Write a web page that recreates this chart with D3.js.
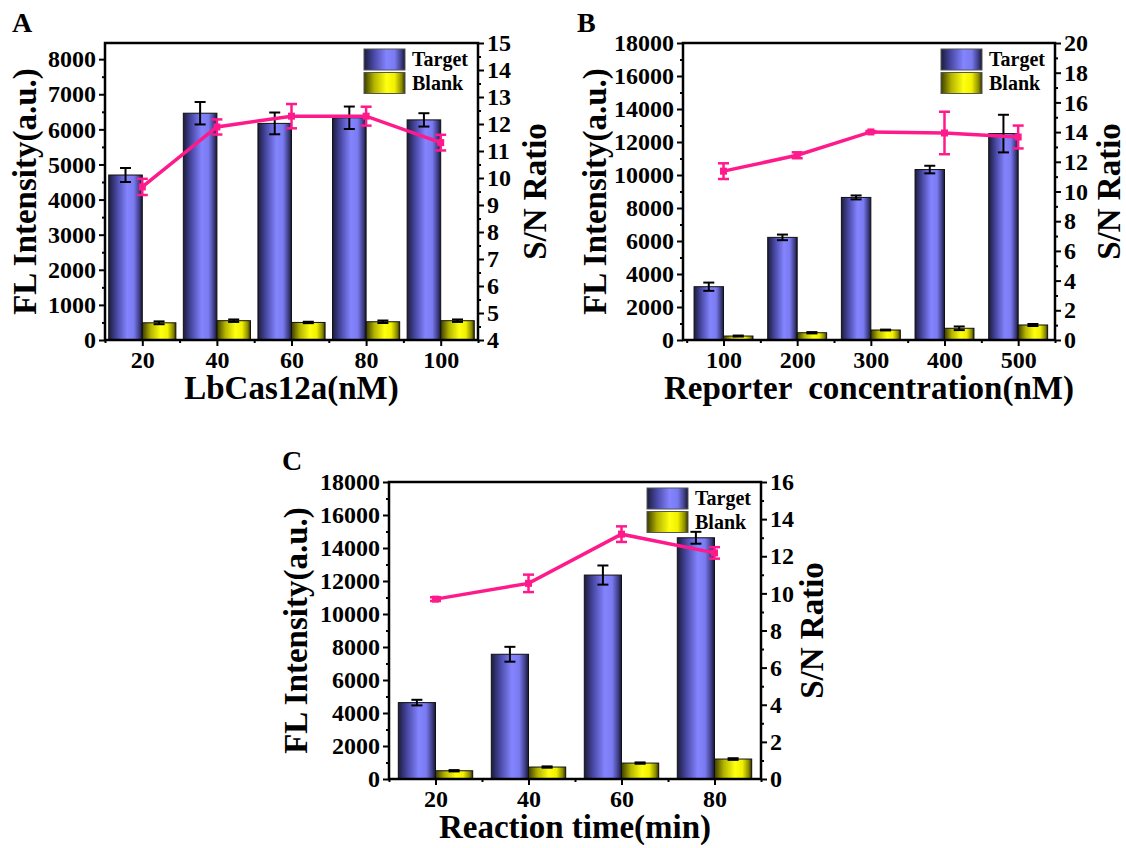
<!DOCTYPE html>
<html>
<head>
<meta charset="utf-8">
<script src="https://cdn.jsdelivr.net/npm/d3@7"></script>
<style>
  body { margin: 0; background: #fff; }
</style>
</head>
<body>
<div id="chart"></div>
<script>
// Panel A: LbCas12a concentration
const lbCas = [20, 40, 60, 80, 100];
const aTarget = [4700, 6460, 6170, 6330, 6270];
const aTargetErr = [200, 320, 310, 320, 190];
const aBlank = [490, 550, 500, 520, 550];
const aBlankErr = [40, 35, 20, 35, 35];
const aRatio = [9.67, 11.89, 12.29, 12.29, 11.31];
const aRatioErr = [0.30, 0.28, 0.45, 0.35, 0.29];

// Panel B: reporter concentration
const reporter = [100, 200, 300, 400, 500];
const bTarget = [3230, 6220, 8640, 10330, 12510];
const bTargetErr = [250, 170, 120, 230, 1140];
const bBlank = [240, 440, 605, 710, 910];
const bBlankErr = [30, 40, 25, 110, 60];
const bRatio = [11.37, 12.44, 14.01, 13.94, 13.67];
const bRatioErr = [0.53, 0.20, 0.06, 1.43, 0.77];

// Panel C: reaction time
const reaction = [20, 40, 60, 80];
const cTarget = [4630, 7560, 12360, 14620];
const cTargetErr = [170, 450, 580, 360];
const cBlank = [500, 725, 965, 1210];
const cBlankErr = [40, 40, 40, 50];
const cRatio = [9.69, 10.54, 13.19, 12.18];
const cRatioErr = [0.10, 0.47, 0.42, 0.31];

// tick labels
const aYTicks = d3.range(0, 8001, 1000);
const aRTicks = d3.range(4, 16, 1);
const bYTicks = d3.range(0, 18001, 2000);
const bRTicks = d3.range(0, 21, 2);
const cYTicks = d3.range(0, 18001, 2000);
const cRTicks = d3.range(0, 17, 2);

const FONT = "'Liberation Serif', 'Times New Roman', serif";
const PINK = "#ff1a8c";

const svg = d3.select("#chart")
  .append("svg")
    .attr("width", 1126)
    .attr("height", 848);

// gradients for the bars
const defs = svg.append("defs");
function gradient(id, stops) {
  const g = defs.append("linearGradient").attr("id", id)
    .attr("x1", "0").attr("x2", "1").attr("y1", "0").attr("y2", "0");
  stops.forEach(s => g.append("stop").attr("offset", s[0]).attr("stop-color", s[1]));
}
gradient("gBlue", [[0, "#1c1c3c"], [0.25, "#4a4aa8"], [0.55, "#8484ff"], [0.75, "#7a7af0"], [0.92, "#3a3a80"], [1, "#16162e"]]);
gradient("gYellow", [[0, "#3c3c00"], [0.25, "#b4b400"], [0.55, "#ffff10"], [0.75, "#f0f000"], [0.92, "#8a8a00"], [1, "#2e2e00"]]);

function panel(o) {
  const g = svg.append("g");
  const x = d3.scaleLinear().domain(o.xDomain).range([o.left, o.right]);
  const y = d3.scaleLinear().domain([0, o.yMax]).range([o.bottom, o.top]);
  const yr = d3.scaleLinear().domain(o.rDomain).range([o.bottom, o.top]);

  // bars
  const bars = g.append("g");
  bars.selectAll("rect.t")
    .data(o.cats)
    .join("rect")
      .attr("x", (d, i) => x(d - o.barW))
      .attr("y", (d, i) => y(o.target[i]))
      .attr("width", d => x(d) - x(d - o.barW))
      .attr("height", (d, i) => o.bottom - y(o.target[i]))
      .attr("fill", "url(#gBlue)")
      .attr("stroke", "#111")
      .attr("stroke-width", 1);
  bars.selectAll("rect.b")
    .data(o.cats)
    .join("rect")
      .attr("class", "b")
      .attr("x", d => x(d))
      .attr("y", (d, i) => y(o.blank[i]))
      .attr("width", d => x(d + o.barW) - x(d))
      .attr("height", (d, i) => o.bottom - y(o.blank[i]))
      .attr("fill", "url(#gYellow)")
      .attr("stroke", "#111")
      .attr("stroke-width", 1);

  // error bars helper
  function errBars(cx, vals, errs, scale, color, sw) {
    const eg = g.append("g").attr("stroke", color).attr("stroke-width", sw).attr("fill", "none");
    o.cats.forEach((c, i) => {
      const px = cx(c);
      const y1 = scale(vals[i] + errs[i]), y2 = scale(vals[i] - errs[i]);
      eg.append("line").attr("x1", px).attr("x2", px).attr("y1", y1).attr("y2", y2);
      eg.append("line").attr("x1", px - 5.5).attr("x2", px + 5.5).attr("y1", y1).attr("y2", y1);
      eg.append("line").attr("x1", px - 5.5).attr("x2", px + 5.5).attr("y1", y2).attr("y2", y2);
    });
  }
  errBars(c => x(c - o.barW / 2), o.target, o.targetErr, y, "#000", 2);
  errBars(c => x(c + o.barW / 2), o.blank, o.blankErr, y, "#000", 2);

  // S/N ratio line
  const line = d3.line().x((d, i) => x(o.cats[i])).y(d => yr(d));
  g.append("path")
    .datum(o.ratio)
    .attr("d", line)
    .attr("fill", "none")
    .attr("stroke", PINK)
    .attr("stroke-width", 3.5);
  errBars(c => x(c), o.ratio, o.ratioErr, yr, PINK, 2.5);
  g.selectAll("rect.m")
    .data(o.ratio)
    .join("rect")
      .attr("class", "m")
      .attr("x", (d, i) => x(o.cats[i]) - 3.5)
      .attr("y", d => yr(d) - 3.5)
      .attr("width", 7)
      .attr("height", 7)
      .attr("fill", PINK);

  // axes
  function styleAxis(a) {
    a.select(".domain").remove();
    a.selectAll("line").attr("stroke", "#000").attr("stroke-width", 2);
    a.attr("font-family", FONT).attr("font-size", 24).attr("font-weight", "bold");
    a.selectAll("text").attr("fill", "#000");
  }
  const axL = g.append("g").attr("transform", `translate(${o.left},0)`)
    .call(d3.axisLeft(y).tickValues(o.yTicks).tickSize(6).tickPadding(3).tickFormat(d3.format("d")));
  styleAxis(axL);
  const axLm = g.append("g").attr("transform", `translate(${o.left},0)`)
    .call(d3.axisLeft(y).tickValues(o.yMinor).tickSize(3).tickFormat(""));
  styleAxis(axLm);

  const axR = g.append("g").attr("transform", `translate(${o.right},0)`)
    .call(d3.axisRight(yr).tickValues(o.rTicks).tickSize(6).tickPadding(3).tickFormat(d3.format("d")));
  styleAxis(axR);
  const axRm = g.append("g").attr("transform", `translate(${o.right},0)`)
    .call(d3.axisRight(yr).tickValues(o.rMinor).tickSize(3).tickFormat(""));
  styleAxis(axRm);

  const axB = g.append("g").attr("transform", `translate(0,${o.bottom})`)
    .call(d3.axisBottom(x).tickValues(o.cats).tickSize(6).tickPadding(5).tickFormat(d3.format("d")));
  styleAxis(axB);
  const axBm = g.append("g").attr("transform", `translate(0,${o.bottom})`)
    .call(d3.axisBottom(x).tickValues(o.xMinor).tickSize(3).tickFormat(""));
  styleAxis(axBm);

  // frame
  g.append("rect")
    .attr("x", o.left).attr("y", o.top)
    .attr("width", o.right - o.left).attr("height", o.bottom - o.top)
    .attr("fill", "none").attr("stroke", "#000").attr("stroke-width", 2.5);

  // titles
  const mid = (o.top + o.bottom) / 2;
  const tt = g.append("g").attr("font-family", FONT).attr("font-weight", "bold").attr("font-size", 33).attr("fill", "#000");
  tt.append("text")
    .attr("transform", `translate(${o.lTitleX},${mid}) rotate(-90)`)
    .attr("text-anchor", "middle")
    .text("FL Intensity(a.u.)");
  tt.append("text")
    .attr("transform", `translate(${o.rTitleX},${mid}) rotate(-90)`)
    .attr("text-anchor", "middle")
    .text("S/N Ratio");
  tt.append("text")
    .attr("x", (o.left + o.right) / 2)
    .attr("y", o.bottom + 59)
    .attr("text-anchor", "middle")
    .attr("xml:space", "preserve")
    .style("white-space", "pre")
    .text(o.xTitle);

  // panel letter
  g.append("text")
    .attr("x", o.letterX).attr("y", o.letterY)
    .attr("font-family", FONT).attr("font-weight", "bold").attr("font-size", 28)
    .text(o.letter);

  // legend
  const lg = g.append("g").attr("font-family", FONT).attr("font-weight", "bold").attr("font-size", 20);
  [["Target", "url(#gBlue)"], ["Blank", "url(#gYellow)"]].forEach((it, i) => {
    const sy = o.top + 6 + i * 23.5;
    lg.append("rect")
      .attr("x", o.right - 114).attr("y", sy)
      .attr("width", 41).attr("height", 21)
      .attr("fill", it[1]).attr("stroke", "#555").attr("stroke-width", 1);
    lg.append("text")
      .attr("x", o.right - 66).attr("y", sy + 17)
      .text(it[0]);
  });
}

panel({
  letter: "A", letterX: 12, letterY: 32,
  left: 105, right: 478, top: 43, bottom: 340,
  xDomain: [10, 110], barW: 9,
  cats: lbCas, xMinor: [10, 30, 50, 70, 90, 110],
  yMax: 8460, yTicks: aYTicks, yMinor: d3.range(500, 8460, 1000),
  rDomain: [4, 15], rTicks: aRTicks, rMinor: d3.range(4.5, 15, 1),
  target: aTarget, targetErr: aTargetErr, blank: aBlank, blankErr: aBlankErr,
  ratio: aRatio, ratioErr: aRatioErr,
  xTitle: "LbCas12a(nM)", lTitleX: 36, rTitleX: 546
});

panel({
  letter: "B", letterX: 577, letterY: 32,
  left: 683, right: 1055, top: 43, bottom: 340,
  xDomain: [45, 550], barW: 40,
  cats: reporter, xMinor: [50, 150, 250, 350, 450, 550],
  yMax: 18000, yTicks: bYTicks, yMinor: d3.range(1000, 18000, 2000),
  rDomain: [0, 20], rTicks: bRTicks, rMinor: d3.range(1, 20, 2),
  target: bTarget, targetErr: bTargetErr, blank: bBlank, blankErr: bBlankErr,
  ratio: bRatio, ratioErr: bRatioErr,
  xTitle: "Reporter  concentration(nM)", lTitleX: 606, rTitleX: 1120
});

panel({
  letter: "C", letterX: 282, letterY: 470,
  left: 389, right: 761, top: 482, bottom: 779,
  xDomain: [10, 90], barW: 8,
  cats: reaction, xMinor: [10, 30, 50, 70, 90],
  yMax: 18000, yTicks: cYTicks, yMinor: d3.range(1000, 18000, 2000),
  rDomain: [0, 16], rTicks: cRTicks, rMinor: d3.range(1, 16, 2),
  target: cTarget, targetErr: cTargetErr, blank: cBlank, blankErr: cBlankErr,
  ratio: cRatio, ratioErr: cRatioErr,
  xTitle: "Reaction time(min)", lTitleX: 307, rTitleX: 823
});
</script>
</body>
</html>
